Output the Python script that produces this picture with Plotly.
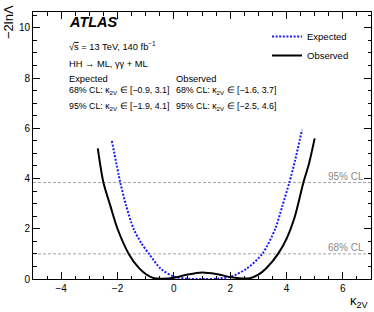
import plotly.graph_objects as go

# ---- data ----
obs_k = [-2.7, -2.5, -2.25, -2.0, -1.6, -1.25, -1.0, -0.7, -0.4, 0.0, 0.5, 1.0, 1.5, 2.0, 2.4, 2.7, 3.0, 3.3, 3.7, 4.0, 4.3, 4.6, 4.8, 5.0]
obs_nll = [5.2, 3.84, 2.9, 2.0, 1.0, 0.45, 0.2, 0.03, 0.01, 0.05, 0.18, 0.26, 0.2, 0.08, 0.02, 0.03, 0.17, 0.45, 1.0, 1.6, 2.5, 3.84, 4.6, 5.6]

exp_k = [-2.2, -1.9, -1.7, -1.43, -1.15, -0.88, -0.46, 0.0, 0.5, 1.1, 1.6, 2.04, 2.57, 3.14, 3.6, 3.85, 4.1, 4.3, 4.55]
exp_nll = [5.5, 3.84, 2.95, 2.0, 1.42, 1.0, 0.4, 0.1, 0.01, 0.0, 0.02, 0.1, 0.4, 1.0, 2.0, 2.9, 3.84, 4.7, 5.94]

cl_levels = [1.0, 3.84]
cl_labels = ["68% CL", "95% CL"]

x_ticks = [-4, -2, 0, 2, 4, 6]
y_ticks = [0, 2, 4, 6, 8, 10]

FONT = "Liberation Sans, Arial, Helvetica, sans-serif"

fig = go.Figure()
fig.add_trace(go.Scatter(x=exp_k, y=exp_nll, mode="lines", name="Expected",
                         line=dict(color="#1a1aff", width=2, dash="2px,1.6px", shape="spline", smoothing=0.8)))
fig.add_trace(go.Scatter(x=obs_k, y=obs_nll, mode="lines", name="Observed",
                         line=dict(color="black", width=2, shape="spline", smoothing=0.8)))

for lvl, lab in zip(cl_levels, cl_labels):
    fig.add_hline(y=lvl, line=dict(color="#8a8a8a", width=0.8, dash="3px,2px"), layer="below")
    fig.add_annotation(x=0.985, xref="paper", y=lvl, yref="y", text=lab, showarrow=False,
                       xanchor="right", yanchor="bottom", yshift=-1,
                       font=dict(family=FONT, size=10, color="#8a8a8a"))

texts = [
    (67, 22, "<b><i>ATLAS</i></b>", 14.5),
    (67, 46.5, "√<span style='text-decoration:overline'>s</span> = 13 TeV, 140 fb<sup>−1</sup>", 9.3),
    (67, 63.5, "HH → ML, γγ + ML", 9.3),
    (67, 78.5, "Expected", 9.3),
    (174, 78.5, "Observed", 9.3),
    (67, 91, "68% CL: κ<sub>2V</sub> ∈ [−0.9, 3.1]", 8.8),
    (67, 106.5, "95% CL: κ<sub>2V</sub> ∈ [−1.9, 4.1]", 8.8),
    (174, 91, "68% CL: κ<sub>2V</sub> ∈ [−1.6, 3.7]", 8.8),
    (174, 106.5, "95% CL: κ<sub>2V</sub> ∈ [−2.5, 4.6]", 8.8),
]
L, R, T, B = 33, 3, 12, 33
W, H = 374, 312
pw, ph = W - L - R, H - T - B
for px, py, txt, fs in texts:
    fig.add_annotation(x=(px - L) / pw, y=(H - B - py) / ph, xref="paper", yref="paper",
                       text=txt, showarrow=False, xanchor="left", yanchor="middle",
                       font=dict(family=FONT, size=fs, color="black"))

# axis titles
fig.add_annotation(x=(9 - L) / pw, y=(H - B - 22) / ph, xref="paper", yref="paper",
                   text="−2lnΛ", textangle=-90, showarrow=False, xanchor="center", yanchor="middle",
                   font=dict(family=FONT, size=13, color="black"))
fig.add_annotation(x=1.0, y=(H - B - 301) / ph, xref="paper", yref="paper",
                   text="κ<sub>2V</sub>", showarrow=False, xanchor="right", yanchor="middle",
                   font=dict(family=FONT, size=13, color="black"))

axis_common = dict(showgrid=False, zeroline=False, showline=True, linecolor="black", linewidth=1,
                   mirror="ticks", ticks="inside", ticklen=7, tickwidth=1, tickcolor="black",
                   tickfont=dict(family=FONT, size=10, color="black"))
fig.update_xaxes(range=[-5, 7], tickvals=x_ticks,
                 minor=dict(dtick=0.5, ticks="inside", ticklen=3.5, tickcolor="black", tickwidth=1),
                 **axis_common)
fig.update_yaxes(range=[0, 10.63], tickvals=y_ticks,
                 minor=dict(dtick=0.5, ticks="inside", ticklen=3.5, tickcolor="black", tickwidth=1),
                 **axis_common)

fig.update_layout(
    width=W, height=H, margin=dict(l=L, r=R, t=T, b=B),
    paper_bgcolor="white", plot_bgcolor="white",
    font=dict(family=FONT, color="black"),
    showlegend=True,
    legend=dict(x=(267 - L) / pw, y=(H - B - 22) / ph, xanchor="left", yanchor="top",
                bgcolor="rgba(0,0,0,0)", font=dict(family=FONT, size=9.5), itemwidth=30,
                tracegroupgap=0),
)

fig.write_html("out.html", config={"displayModeBar": False},
               post_script="document.body.style.margin='0';document.body.style.overflow='hidden';")
